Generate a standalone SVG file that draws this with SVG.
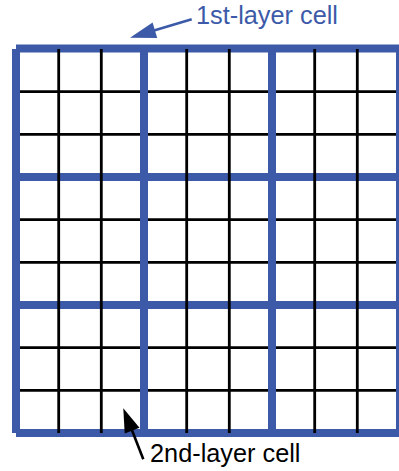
<svg xmlns="http://www.w3.org/2000/svg" width="399" height="471" viewBox="0 0 399 471">
<style>
.thin{stroke:#000;stroke-width:2.8;fill:none}
.thick{stroke:#3c5aa8;stroke-width:8;fill:none;stroke-linecap:butt}
.lbl{font-family:"Liberation Sans",Arial,sans-serif;font-size:25.3px}
</style>
<rect width="399" height="471" fill="#fff"/>
<g id="grid-fine-h">
<path class="thin" d="M16 91.7H400M16 134.3H400M16 219.7H400M16 262.3H400M16 347.7H400M16 390.3H400"/>
</g>
<g id="grid-coarse">
<path class="thick" d="M16 48.5H400M16 177H400M16 305H400M16 433H400"/>
<path class="thick" d="M16 49V433M144 49V433M272 49V433M400 49V433"/>
</g>
<g id="grid-fine-v">
<path class="thin" d="M58.7 49V433M101.3 49V433M186.7 49V433M229.3 49V433M314.7 49V433M357.3 49V433"/>
</g>
<g id="connectors">
<line x1="191.7" y1="19.3" x2="154" y2="30.6" stroke="#3c5aa8" stroke-width="2.6"/>
<polygon points="130,37.7 152.6,22.6 157.2,38" fill="#3c5aa8"/>
<line x1="143.3" y1="459.3" x2="132" y2="430.3" stroke="#000" stroke-width="2.6"/>
<polygon points="123.3,408.3 139.5,427.7 124.7,433.5" fill="#000"/>
</g>
<g id="label-1st">
<text class="lbl" x="196" y="24" fill="#3c5aa8">1st-layer cell</text>
</g>
<g id="label-2nd">
<text class="lbl" x="150" y="462" fill="#000">2nd-layer cell</text>
</g>
</svg>
